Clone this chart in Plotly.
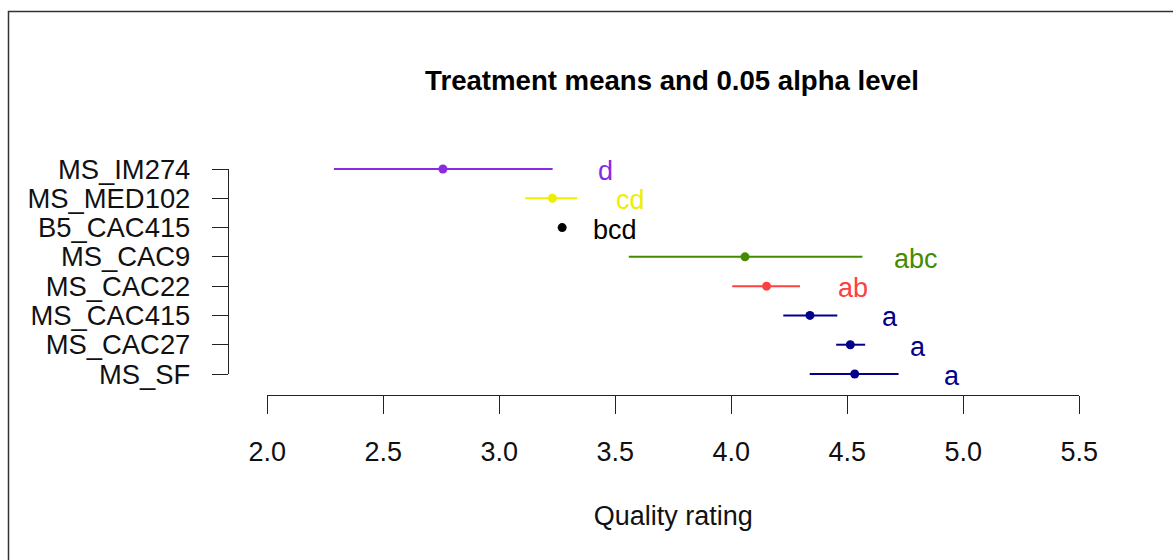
import plotly.graph_objects as go

# ---------------- data ----------------
treatments = ["MS_IM274", "MS_MED102", "B5_CAC415", "MS_CAC9",
              "MS_CAC22", "MS_CAC415", "MS_CAC27", "MS_SF"]
means = [2.757, 3.229, 3.271, 4.059, 4.152, 4.339, 4.513, 4.532]
lower = [2.287, 3.112, 3.271, 3.558, 4.004, 4.224, 4.452, 4.338]
upper = [3.230, 3.335, 3.271, 4.565, 4.296, 4.457, 4.577, 4.721]
groups = ["d", "cd", "bcd", "abc", "ab", "a", "a", "a"]
colors = ["#8A2BE2", "#EEEE00", "#000000", "#458B00",
          "#FF4040", "#00008B", "#00008B", "#00008B"]
x_ticks = [2.0, 2.5, 3.0, 3.5, 4.0, 4.5, 5.0, 5.5]
x_tick_labels = ["2.0", "2.5", "3.0", "3.5", "4.0", "4.5", "5.0", "5.5"]
title_text = "Treatment means and 0.05 alpha level"
x_title = "Quality rating"
letter_offset = 0.229

# ---------------- layout geometry ----------------
W, H = 1173, 560
L, R, T, B = 228, 45, 140, 165
pw, ph = W - L - R, H - T - B
x_lo_px, x_hi_px = 267.3, 1079.3     # pixel position of first / last x tick
y_top_px, y_bot_px = 169.0, 374.0    # pixel position of first / last category

n = len(treatments)
ypos = [n - i for i in range(n)]

px_per_x = (x_hi_px - x_lo_px) / (x_ticks[-1] - x_ticks[0])
x_range = [x_ticks[0] - (x_lo_px - L) / px_per_x,
           x_ticks[-1] + (L + pw - x_hi_px) / px_per_x]
x2_domain = [(x_lo_px - L) / pw, (x_hi_px - L) / pw]

px_per_y = (y_bot_px - y_top_px) / (n - 1)
y_range = [1 - (T + ph - y_bot_px) / px_per_y, n + (y_top_px - T) / px_per_y]
y2_domain = [(T + ph - y_bot_px) / ph, (T + ph - y_top_px) / ph]

FONT = "Liberation Sans, Arial, sans-serif"
AXC = "#222222"
TXT = "#111111"

fig = go.Figure()

for i in range(n):
    fig.add_trace(go.Scatter(
        x=[means[i]], y=[ypos[i]], mode="markers",
        marker=dict(color=colors[i], size=9),
        error_x=dict(type="data", symmetric=False,
                     array=[upper[i] - means[i]],
                     arrayminus=[means[i] - lower[i]],
                     color=colors[i], thickness=2, width=0),
        cliponaxis=False, showlegend=False,
        name=treatments[i], xaxis="x", yaxis="y"))

annotations = []
for i in range(n):
    annotations.append(dict(
        x=upper[i] + letter_offset, y=ypos[i], xref="x", yref="y",
        text=groups[i], showarrow=False, xanchor="center", yanchor="middle",
        yshift=-2, font=dict(family=FONT, size=27, color=colors[i])))

# invisible trace that carries the R-style display axes
fig.add_trace(go.Scatter(
    x=means, y=ypos, mode="markers", marker=dict(opacity=0),
    hoverinfo="skip", showlegend=False, xaxis="x2", yaxis="y2"))

fig.update_layout(
    width=W, height=H,
    margin=dict(l=L, r=R, t=T, b=B, pad=0),
    paper_bgcolor="white", plot_bgcolor="rgba(0,0,0,0)",
    font=dict(family=FONT, size=27, color=TXT),
    title=dict(text=title_text, x=672 / W, xref="container", xanchor="center",
               y=1 - 80 / H, yref="container", yanchor="middle",
               font=dict(family=FONT, size=27.6, color="#000000", weight="bold")),
    xaxis=dict(range=x_range, domain=[0, 1], visible=False,
               showgrid=False, zeroline=False),
    yaxis=dict(range=y_range, domain=[0, 1], visible=False,
               showgrid=False, zeroline=False),
    xaxis2=dict(range=[x_ticks[0], x_ticks[-1]], domain=x2_domain,
                anchor="free", position=0, side="bottom",
                showline=True, linecolor=AXC, linewidth=1.3,
                ticks="outside", ticklen=18, tickwidth=1.3, tickcolor=AXC,
                tickvals=x_ticks, ticktext=x_tick_labels,
                ticklabelstandoff=14,
                tickfont=dict(family=FONT, size=27, color=TXT),
                showgrid=False, zeroline=False,
                title=dict(text=x_title, standoff=40,
                           font=dict(family=FONT, size=27, color=TXT)),
                automargin=True),
    yaxis2=dict(range=[1, n], domain=y2_domain,
                anchor="free", position=0, side="left",
                showline=True, linecolor=AXC, linewidth=1.3,
                ticks="outside", ticklen=16, tickwidth=1.3, tickcolor=AXC,
                tickvals=ypos, ticktext=treatments,
                ticklabelstandoff=16,
                tickfont=dict(family=FONT, size=27.4, color=TXT),
                showgrid=False, zeroline=False, automargin=False),
    annotations=annotations,
    shapes=[dict(type="rect", xref="paper", yref="paper",
                 x0=(8.5 - L) / pw, x1=(W + 10 - L) / pw,
                 y0=(T + ph - (H + 10)) / ph, y1=(T + ph - 11.5) / ph,
                 line=dict(color="#333333", width=1.5),
                 fillcolor="rgba(0,0,0,0)", layer="below")],
)

fig.write_html("out.html")
